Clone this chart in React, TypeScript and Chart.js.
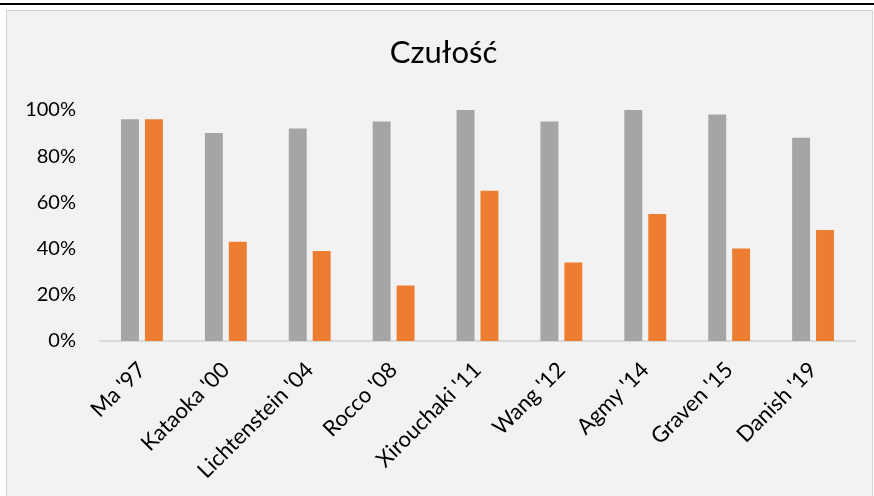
import React, { useEffect, useRef } from "react";
import { Chart, registerables } from "chart.js";

Chart.register(...registerables);

// Studies compared on the chart
const categories = [
  "Ma '97",
  "Kataoka '00",
  "Lichtenstein '04",
  "Rocco '08",
  "Xirouchaki '11",
  "Wang '12",
  "Agmy '14",
  "Graven '15",
  "Danish '19",
];

// Sensitivity (%) for each study, two methods
const seriesGray = [96, 90, 92, 95, 100, 95, 100, 98, 88];
const seriesOrange = [96, 43, 39, 24, 65, 34, 55, 40, 48];

const chartTitle = "Czułość";
const yMax = 100;
const yStep = 20;

const FONT = "Lato, 'Liberation Sans', sans-serif";

// Title drawn centred on the chart box (not on the plot area)
const boxTitle = {
  id: "boxTitle",
  afterDraw(chart: any) {
    const ctx = chart.ctx;
    ctx.save();
    ctx.font = `31px ${FONT}`;
    ctx.fillStyle = "#000000";
    ctx.textAlign = "center";
    ctx.textBaseline = "middle";
    ctx.fillText(chartTitle, chart.width / 2 + 4, 42);
    ctx.restore();
  },
};

export default function App() {
  const canvasRef = useRef<HTMLCanvasElement | null>(null);

  useEffect(() => {
    document.body.style.margin = "0";
    const canvas = canvasRef.current;
    if (!canvas) return;

    const chart = new Chart(canvas, {
      type: "bar",
      data: {
        labels: categories,
        datasets: [
          {
            label: "A",
            data: seriesGray,
            backgroundColor: "#a5a5a5",
            borderWidth: 0,
            categoryPercentage: 0.57,
            barPercentage: 0.75,
          },
          {
            label: "B",
            data: seriesOrange,
            backgroundColor: "#ed7d31",
            borderWidth: 0,
            categoryPercentage: 0.57,
            barPercentage: 0.75,
          },
        ],
      },
      options: {
        responsive: false,
        animation: false,
        devicePixelRatio: 1,
        layout: { padding: { left: 0, right: 17, top: 99, bottom: 0 } },
        plugins: {
          legend: { display: false },
          tooltip: { enabled: false },
          title: { display: false },
        },
        scales: {
          x: {
            grid: { display: false, drawTicks: false },
            border: { display: true, color: "#d9d9d9", width: 2 },
            ticks: {
              color: "#000000",
              font: { family: FONT, size: 22 },
              minRotation: 45,
              maxRotation: 45,
              padding: 16,
              autoSkip: false,
            },
            afterFit: (scale: any) => {
              scale.height = 155;
            },
          },
          y: {
            min: 0,
            max: yMax,
            grid: { display: false, drawTicks: false },
            border: { display: false },
            ticks: {
              stepSize: yStep,
              color: "#000000",
              font: { family: FONT, size: 20 },
              padding: 24,
              callback: (v: any) => `${v}%`,
            },
            afterFit: (scale: any) => {
              scale.width = 93;
            },
          },
        },
      },
      plugins: [boxTitle],
    });

    return () => {
      chart.destroy();
    };
  }, []);

  return (
    <div
      style={{
        position: "relative",
        width: 874,
        height: 496,
        overflow: "hidden",
        background: "#ffffff",
      }}
    >
      <div
        style={{
          position: "absolute",
          left: 0,
          top: 3,
          width: 874,
          height: 2,
          background: "#000000",
        }}
      />
      <div
        style={{
          position: "absolute",
          left: 6,
          top: 10,
          width: 865,
          height: 600,
          border: "1px solid #d4d4d4",
          background: "#f2f2f2",
        }}
      >
        <canvas
          ref={canvasRef}
          width={865}
          height={485}
          style={{ display: "block", width: 865, height: 485 }}
        />
      </div>
    </div>
  );
}
